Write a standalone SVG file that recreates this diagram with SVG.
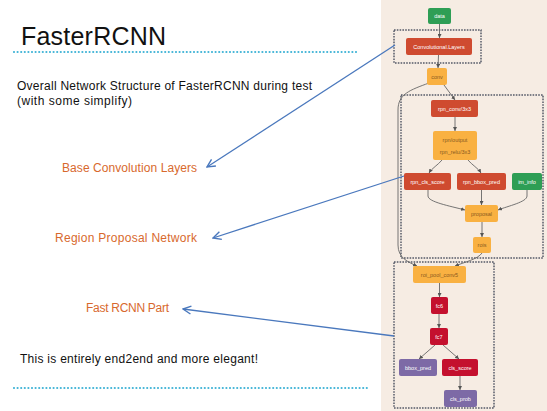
<svg xmlns="http://www.w3.org/2000/svg" width="547" height="411" viewBox="0 0 547 411">
<defs>
<marker id="ga" viewBox="0 0 6 6" refX="6" refY="3" markerWidth="4" markerHeight="4" orient="auto" markerUnits="userSpaceOnUse"><path d="M0,0 L6,3 L0,6 z" fill="#555"/></marker>
<marker id="ba" viewBox="0 0 10 10" refX="9" refY="5" markerWidth="10" markerHeight="10" orient="auto" markerUnits="userSpaceOnUse"><path d="M1,1 L9,5 L1,9" fill="none" stroke="#4a78bd" stroke-width="1.4"/></marker>
</defs>
<style>
.n text{font-family:"Liberation Sans",Arial,sans-serif;font-size:5.5px;fill:#fff;text-anchor:middle}
.n.o text{fill:#8a5a20}
.red rect{fill:#cf4b30}
.grn rect{fill:#2e9e55}
.o rect{fill:#f9b142}
.crim rect{fill:#c4102e}
.pur rect{fill:#7d6aa6}
.e path{fill:none;stroke:#666;stroke-width:0.9;marker-end:url(#ga)}
.box{fill:none;stroke:#555a68;stroke-width:1.5;stroke-dasharray:1.6 1.2}
.dots{stroke:#3fb3d6;stroke-width:2.2;stroke-linecap:round;stroke-dasharray:0 3.6}
.lbl{font-family:"Liberation Sans",Arial,sans-serif;font-size:12px;fill:#d8692d}
.txt{font-family:"Liberation Sans",Arial,sans-serif;font-size:12px;fill:#111}
.blue path{fill:none;stroke:#4a78bd;stroke-width:1.3;marker-end:url(#ba)}
</style>
<rect x="0" y="0" width="547" height="411" fill="#fff"/>
<rect x="381" y="0" width="166" height="411" fill="#f6ece3"/>

<g id="left-text">
<text x="21" y="45" font-family="Liberation Sans,Arial,sans-serif" font-size="25" fill="#111" textLength="145">FasterRCNN</text>
<line class="dots" x1="14" y1="52" x2="357" y2="52"/>
<text class="txt" x="17" y="90" textLength="295">Overall Network Structure of FasterRCNN during test</text>
<text class="txt" x="17" y="104.5" textLength="115">(with some simplify)</text>
<text class="lbl" x="62" y="172" textLength="135">Base Convolution Layers</text>
<text class="lbl" x="55" y="242" textLength="142">Region Proposal Network</text>
<text class="lbl" x="86" y="312" textLength="83">Fast RCNN Part</text>
<text class="txt" x="20" y="363" textLength="238">This is entirely end2end and more elegant!</text>
<line class="dots" x1="14" y1="388" x2="368" y2="388"/>
</g>

<g id="groups">
<rect class="box" x="394" y="30" width="87" height="33"/>
<rect class="box" x="401" y="95" width="142" height="163"/>
<rect class="box" x="394" y="262" width="100" height="146"/>
</g>

<g id="connectors">
<g class="e">
<path d="M439.5,24 L439.5,38"/>
<path d="M438.5,55 L438,68"/>
<path d="M444,85 L455,100"/>
<path d="M429,83 C410,90 398,94 398,110 L398,245 C398,258 408,262 417,266"/>
<path d="M455,117 L455,131"/>
<path d="M442,160 C438,165 432,168 429,173"/>
<path d="M468,160 C472,165 478,168 481,173"/>
<path d="M428,190 L428,196 C428,202 450,206 465,210"/>
<path d="M481.5,190 L481.5,205"/>
<path d="M527,190 L527,196 C527,202 508,206 498,210"/>
<path d="M482,222 L482,237"/>
<path d="M482,253 C478,259 465,262 455,266"/>
<path d="M439.5,283 L439.5,297"/>
<path d="M439,314 L439,328"/>
<path d="M435,345 L419,359"/>
<path d="M443,345 L459,359"/>
<path d="M460,376 L460,390"/>
</g>
<g class="blue">
<path d="M395,45 L207,167"/>
<path d="M404,176 L213,238"/>
<path d="M394,336 L183,309"/>
</g>
</g>

<g id="data" class="n grn"><rect x="428" y="8" width="23" height="16" rx="2"/><text x="439.5" y="18">data</text></g>
<g id="convlayers" class="n red"><rect x="406" y="38" width="66" height="17" rx="2"/><text x="439" y="48.5">Convolutional.Layers</text></g>
<g id="conv" class="n o"><rect x="427" y="68" width="20" height="17" rx="2"/><text x="437" y="78.5">conv</text></g>
<g id="rpn_conv" class="n red"><rect x="431" y="100" width="47" height="17" rx="2"/><text x="454.5" y="110.5">rpn_conv/3x3</text></g>
<g id="rpn_output" class="n o"><rect x="433" y="131" width="44" height="29" rx="2"/><text x="455" y="141.5">rpn/output</text><text x="455" y="154">rpn_relu/3x3</text></g>
<g id="rpn_cls_score" class="n red"><rect x="404" y="173" width="47" height="17" rx="2"/><text x="427.5" y="183.5">rpn_cls_score</text></g>
<g id="rpn_bbox_pred" class="n red"><rect x="457" y="173" width="49" height="17" rx="2"/><text x="481.5" y="183.5">rpn_bbox_pred</text></g>
<g id="im_info" class="n grn"><rect x="512" y="173" width="30" height="17" rx="2"/><text x="527" y="183.5">im_info</text></g>
<g id="proposal" class="n o"><rect x="465" y="205" width="33" height="17" rx="2"/><text x="481.5" y="215.5">proposal</text></g>
<g id="rois" class="n o"><rect x="473" y="237" width="18" height="16" rx="2"/><text x="482" y="247">rois</text></g>
<g id="roi_pool_conv5" class="n o"><rect x="413" y="266" width="53" height="17" rx="2"/><text x="439.5" y="276.5">roi_pool_conv5</text></g>
<g id="fc6" class="n crim"><rect x="431" y="297" width="17" height="17" rx="2"/><text x="439.5" y="307.5">fc6</text></g>
<g id="fc7" class="n crim"><rect x="430" y="328" width="18" height="17" rx="2"/><text x="439" y="338.5">fc7</text></g>
<g id="bbox_pred" class="n pur"><rect x="399" y="359" width="38" height="17" rx="2"/><text x="418" y="369.5">bbox_pred</text></g>
<g id="cls_score" class="n crim"><rect x="442" y="359" width="36" height="17" rx="2"/><text x="460" y="369.5">cls_score</text></g>
<g id="cls_prob" class="n pur"><rect x="444" y="390" width="33" height="17" rx="2"/><text x="460.5" y="400.5">cls_prob</text></g>
</svg>
